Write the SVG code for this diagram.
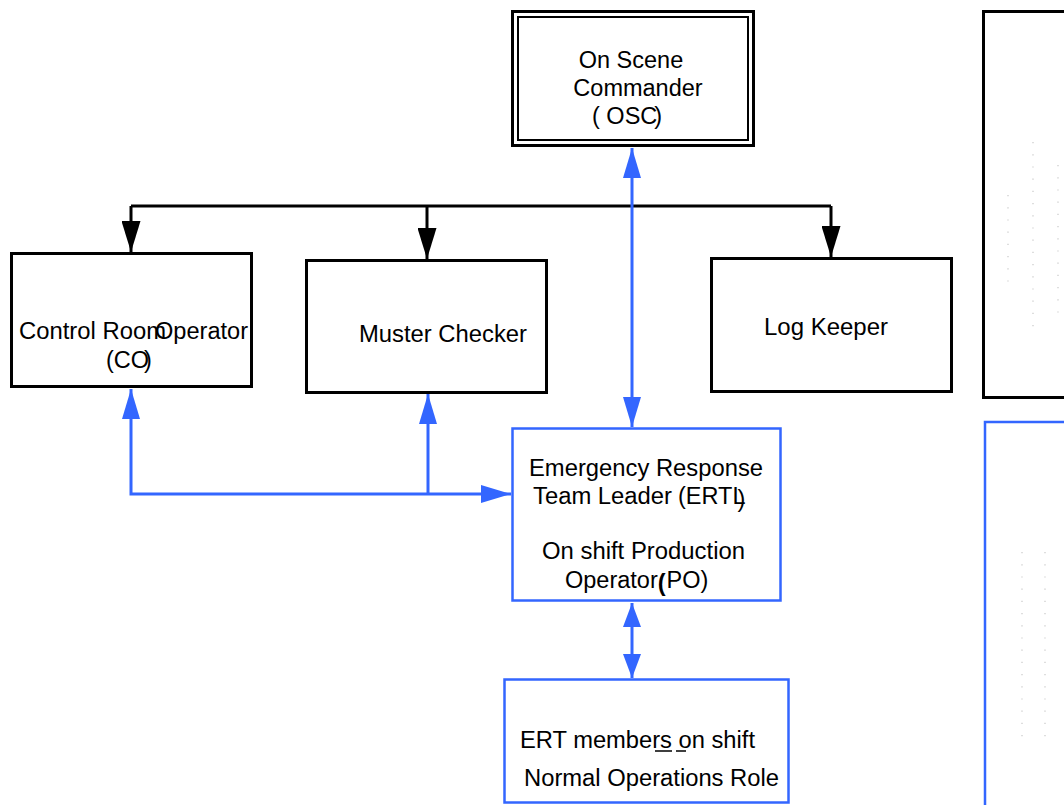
<svg xmlns="http://www.w3.org/2000/svg" width="1064" height="805" viewBox="0 0 1064 805">
  <defs>
    <style>
      .box-k { fill: #ffffff; stroke: #000000; stroke-width: 3; }
      .box-b { fill: #ffffff; stroke: #3366ff; stroke-width: 2.5; }
      .ln-k { fill: none; stroke: #000000; stroke-width: 3; }
      .ln-b { fill: none; stroke: #3366ff; stroke-width: 3; }
      .lbl { font-family: "Liberation Sans", Arial, sans-serif; font-size: 23.5px; fill: #000000; }
      .speck { fill: none; stroke: #c8c8c8; stroke-width: 1.2; stroke-dasharray: 1.2 11; }
    </style>
    <marker id="ab" viewBox="0 0 30 18" refX="30" refY="9" markerWidth="30" markerHeight="18" markerUnits="userSpaceOnUse" orient="auto-start-reverse">
      <path d="M0,0 L30,9 L0,18 Z" fill="#3366ff"/>
    </marker>
    <marker id="abs" viewBox="0 0 24 18" refX="24" refY="9" markerWidth="24" markerHeight="18" markerUnits="userSpaceOnUse" orient="auto-start-reverse">
      <path d="M0,0 L24,9 L0,18 Z" fill="#3366ff"/>
    </marker>
    <marker id="akh" viewBox="0 0 31 19" refX="31" refY="9.5" markerWidth="31" markerHeight="19" markerUnits="userSpaceOnUse" orient="auto">
      <path d="M0,0 L31,9.5 L0,19 Z" fill="#000000"/>
    </marker>
  </defs>

  <!-- connectors -->
  <g id="connectors">
    <path class="ln-k" d="M131,206 L831,206"/>
    <path class="ln-k" d="M131,206 L131,252" marker-end="url(#akh)"/>
    <path class="ln-k" d="M427,206 L427,259" marker-end="url(#akh)"/>
    <path class="ln-k" d="M831,206 L831,257" marker-end="url(#akh)"/>
    <path class="ln-b" d="M632,148 L632,427" marker-start="url(#ab)" marker-end="url(#ab)"/>
    <path class="ln-b" d="M131,389 L131,494 L511,494" marker-start="url(#ab)" marker-end="url(#ab)"/>
    <path class="ln-b" d="M428,494 L428,394" marker-end="url(#ab)"/>
    <path class="ln-b" d="M632,603 L632,678" marker-start="url(#abs)" marker-end="url(#abs)"/>
  </g>

  <g id="osc">
    <rect class="box-k" x="512.5" y="11.5" width="241" height="134"/>
    <rect fill="none" stroke="#000" stroke-width="2" x="518" y="17" width="230" height="123"/>
    <text class="lbl" x="631" y="68" text-anchor="middle">On Scene</text>
    <text class="lbl" x="638" y="96" text-anchor="middle">Commander</text>
    <text class="lbl" x="592" y="124">( OSC<tspan dx="-3">)</tspan></text>
  </g>

  <g id="control-room">
    <rect class="box-k" x="11.5" y="253.5" width="240" height="133"/>
    <text class="lbl" x="19" y="339"><tspan textLength="147" lengthAdjust="spacingAndGlyphs">Control Room</tspan><tspan x="155" textLength="93" lengthAdjust="spacingAndGlyphs">Operator</tspan></text>
    <text class="lbl" x="106" y="368">(CO<tspan dx="-5">)</tspan></text>
  </g>

  <g id="muster-checker">
    <rect class="box-k" x="306.5" y="260.5" width="240" height="132"/>
    <text class="lbl" x="359" y="342" textLength="168" lengthAdjust="spacingAndGlyphs">Muster Checker</text>
  </g>

  <g id="log-keeper">
    <rect class="box-k" x="711.5" y="258.5" width="240" height="133"/>
    <text class="lbl" x="764" y="335" textLength="124" lengthAdjust="spacingAndGlyphs">Log Keeper</text>
  </g>

  <g id="ertl">
    <rect class="box-b" x="512.5" y="428.5" width="268" height="172"/>
    <text class="lbl" x="529" y="476" textLength="234" lengthAdjust="spacingAndGlyphs">Emergency Response</text>
    <text class="lbl" x="533" y="504"><tspan textLength="139" lengthAdjust="spacingAndGlyphs">Team Leader</tspan><tspan x="678">(ERTL</tspan><tspan dx="-8" dy="3">)</tspan></text>
    <text class="lbl" x="542" y="559" textLength="203" lengthAdjust="spacingAndGlyphs">On shift Production</text>
    <text class="lbl" x="565" y="588">Operator<tspan font-weight="bold" dy="3">(</tspan><tspan dx="1" dy="-3">PO)</tspan></text>
  </g>

  <g id="ert-members">
    <rect class="box-b" x="504.5" y="679.5" width="284" height="123"/>
    <text class="lbl" x="520" y="748" textLength="235" lengthAdjust="spacingAndGlyphs">ERT members on shift</text>
    <path d="M655,751 L672,751 M676,751 L686,751" stroke="#000" stroke-width="1.5"/>
    <text class="lbl" x="524" y="786" textLength="255" lengthAdjust="spacingAndGlyphs">Normal Operations Role</text>
  </g>

  <g id="side-panel-upper">
    <rect class="box-k" x="983.5" y="11.5" width="90" height="386"/>
    <path class="speck" d="M1008,195 L1008,290 M1033,142 L1033,330 M1058,165 L1058,320"/>
  </g>

  <g id="side-panel-lower">
    <rect class="box-b" x="985" y="422" width="90" height="390" stroke-width="3"/>
    <path class="speck" d="M1022,552 L1022,745 M1045,552 L1045,745"/>
  </g>
</svg>
